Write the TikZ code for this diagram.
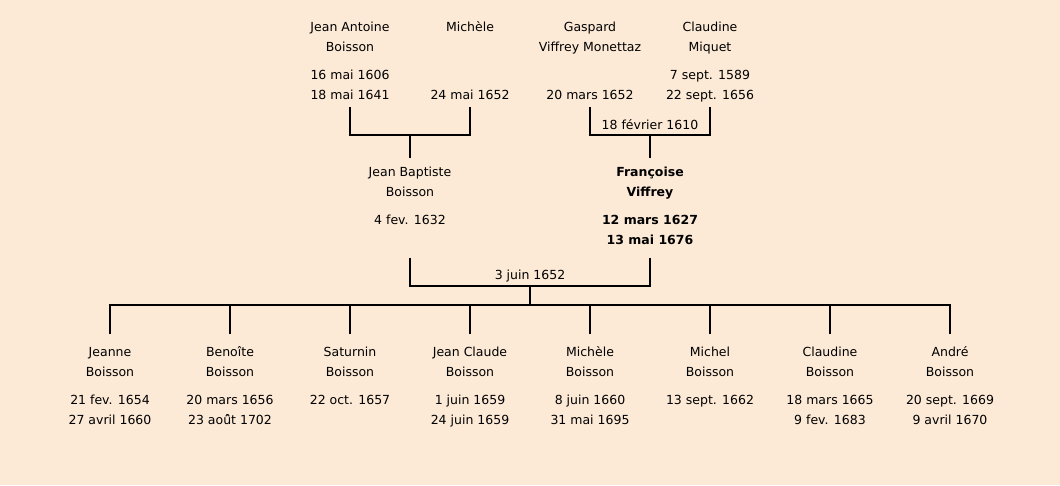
\documentclass[tikz,border=0pt]{standalone}
\usepackage{fontspec}
\setmainfont{DejaVu Sans}
\definecolor{bg}{HTML}{FCEAD7}
\begin{document}
\begin{tikzpicture}[x=1pt,y=-1pt,
  txt/.style={inner sep=0pt,font=\fontsize{12.5}{14}\selectfont,anchor=base,yshift=-4.5pt},
  btxt/.style={txt,font=\fontsize{12.5}{14}\selectfont\bfseries},
  lnk/.style={line width=2pt,line cap=rect}]
\fill[bg] (0,0) rectangle (1060,485);
\useasboundingbox (0,0) rectangle (1060,485);
% top row
\node[txt] (ja1) at (350,27) {Jean Antoine};
\node[txt] (ja2) at (350,47) {Boisson};
\node[txt] (ja3) at (350,75) {16 mai 1606};
\node[txt] (ja4) at (350,95) {18 mai 1641};
\node[txt] (mi1) at (470,27) {Michèle};
\node[txt] (mi4) at (470,95) {24 mai 1652};
\node[txt] (ga1) at (590,27) {Gaspard};
\node[txt] (ga2) at (590,47) {Viffrey Monettaz};
\node[txt] (ga4) at (590,95) {20 mars 1652};
\node[txt] (cl1) at (710,27) {Claudine};
\node[txt] (cl2) at (710,47) {Miquet};
\node[txt] (cl3) at (710,75) {7 sept. 1589};
\node[txt] (cl4) at (710,95) {22 sept. 1656};
\coordinate (jaB) at (350,108);
\coordinate (miB) at (470,108);
\coordinate (gaB) at (590,108);
\coordinate (clB) at (710,108);
\coordinate (c1) at (410,135);
\coordinate (c2) at (650,135);
\coordinate (jbT) at (410,157);
\coordinate (frT) at (650,157);
\draw[lnk] (jaB) -- (jaB |- c1) -- (miB |- c1) -- (miB);
\draw[lnk] (c1) -- (jbT);
\draw[lnk] (gaB) -- (gaB |- c2) -- (clB |- c2) -- (clB);
\draw[lnk] (c2) -- (frT);
\node[txt] (m1) at (650,125) {18 février 1610};
% middle row
\node[txt] (jb1) at (410,172) {Jean Baptiste};
\node[txt] (jb2) at (410,192) {Boisson};
\node[txt] (jb3) at (410,220) {4 fev. 1632};
\node[btxt] (fr1) at (650,172) {Françoise};
\node[btxt] (fr2) at (650,192) {Viffrey};
\node[btxt] (fr3) at (650,220) {12 mars 1627};
\node[btxt] (fr4) at (650,240) {13 mai 1676};
\coordinate (jbB) at (410,259);
\coordinate (frB) at (650,259);
\coordinate (c3) at (530,286);
\coordinate (bar) at (530,305);
\draw[lnk] (jbB) -- (jbB |- c3) -- (frB |- c3) -- (frB);
\draw[lnk] (c3) -- (bar);
\node[txt] (m2) at (530,275) {3 juin 1652};
\draw[lnk] (110,305) -- (950,305);
% children
\foreach \x/\n/\a/\b/\c/\d in {
  110/k1/Jeanne/Boisson/21 fev. 1654/27 avril 1660,
  230/k2/Benoîte/Boisson/20 mars 1656/23 aoû̂t 1702,
  350/k3/Saturnin/Boisson/22 oct. 1657/,
  470/k4/Jean Claude/Boisson/1 juin 1659/24 juin 1659,
  590/k5/Michèle/Boisson/8 juin 1660/31 mai 1695,
  710/k6/Michel/Boisson/13 sept. 1662/,
  830/k7/Claudine/Boisson/18 mars 1665/9 fev. 1683,
  950/k8/André/Boisson/20 sept. 1669/9 avril 1670}{
  \coordinate (\n T) at (\x,333);
  \draw[lnk] (\x,305) -- (\n T);
  \node[txt] (\n a) at (\x,352) {\a};
  \node[txt] (\n b) at (\x,372) {\b};
  \node[txt] (\n c) at (\x,400) {\c};
  \node[txt] (\n d) at (\x,420) {\d};
}
\end{tikzpicture}
\end{document}
